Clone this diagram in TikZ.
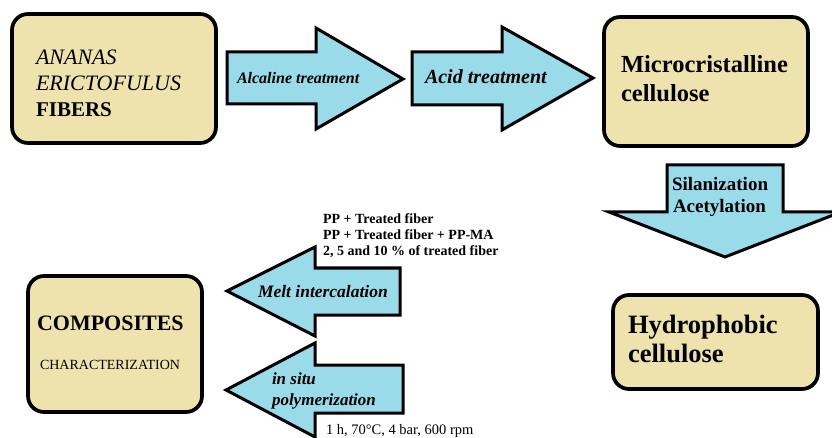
\documentclass[tikz,border=0pt]{standalone}
\usepackage{fontspec}
\setmainfont{Liberation Serif}
\definecolor{boxtan}{HTML}{EFE3AD}
\definecolor{arrowblue}{HTML}{9ADBEA}
\tikzset{
  box/.style={draw=black, line width=3.7pt, fill=boxtan, rounded corners=16pt},
  blockarrow/.style={draw=black, line width=3pt, fill=arrowblue, line join=miter},
  lbl/.style={anchor=base west, inner sep=0pt, outer sep=0pt},
}
\newcommand{\fs}[1]{\fontsize{#1}{#1}\selectfont}
\begin{document}
\begin{tikzpicture}[x=1pt, y=-1pt]
\useasboundingbox (0,0) rectangle (832,438);
\fill[white] (0,0) rectangle (832,438);
% boxes
\draw[box] (12,14) rectangle (216,143);
\draw[box] (604,17) rectangle (808,146);
\draw[box] (613,295) rectangle (818,389);
\draw[box] (28,276) rectangle (202,412);
% block arrows
\draw[blockarrow] (227,52) -- (316,52) -- (316,28) -- (403,79) -- (316,129) -- (316,104) -- (227,104) -- cycle;
\draw[blockarrow] (412,52) -- (502,52) -- (502,27) -- (593,78) -- (502,130) -- (502,105) -- (412,105) -- cycle;
\draw[blockarrow] (667,165) -- (783,165) -- (783,212) -- (841,212) -- (725,257) -- (609,212) -- (667,212) -- cycle;
\draw[blockarrow] (227,291) -- (315,247) -- (315,268) -- (400,268) -- (400,315) -- (315,315) -- (315,336) -- cycle;
\draw[blockarrow] (226,390) -- (315,343) -- (315,365) -- (403,365) -- (403,413) -- (315,413) -- (315,437) -- cycle;
% box texts
\node[lbl] (t1) at (36,65) {\fs{22}\itshape ANANAS};
\node[lbl] (t2) at (36,91) {\fs{22}\itshape ERICTOFULUS};
\node[lbl] (t3) at (36,117) {\fs{21}\bfseries FIBERS};
\node[lbl] (t4) at (621,73) {\fs{24.5}\bfseries Microcristalline};
\node[lbl] (t5) at (621,102) {\fs{24.5}\bfseries cellulose};
\node[lbl] (t6) at (628,333) {\fs{26.5}\bfseries Hydrophobic};
\node[lbl] (t7) at (628,362) {\fs{26.5}\bfseries cellulose};
\node[lbl] (t8) at (37,330) {\fs{22}\bfseries COMPOSITES};
\node[lbl] (t9) at (40,369) {\fs{14}CHARACTERIZATION};
% arrow labels
\node[lbl] (a1) at (237,84) {\fs{16}\bfseries\itshape Alcaline treatment};
\node[lbl] (a2) at (425,84) {\fs{20}\bfseries\itshape Acid treatment};
\node[lbl] (a3) at (672,191) {\fs{19}\bfseries Silanization};
\node[lbl] (a4) at (673,213) {\fs{19}\bfseries Acetylation};
\node[lbl] (a5) at (258,297) {\fs{17.5}\bfseries\itshape Melt intercalation};
\node[lbl] (a6) at (272,384) {\fs{17}\bfseries\itshape in situ};
\node[lbl] (a7) at (272,405) {\fs{17}\bfseries\itshape polymerization};
% annotations
\node[lbl] (n1) at (323,224) {\fs{14}\bfseries PP + Treated fiber};
\node[lbl] (n2) at (323,240) {\fs{14}\bfseries PP + Treated fiber + PP-MA};
\node[lbl] (n3) at (323,256) {\fs{14}\bfseries 2, 5 and 10 \% of treated fiber};
\node[lbl] (n4) at (326,434) {\fs{14.5}1 h, 70°C, 4 bar, 600 rpm};
\end{tikzpicture}
\end{document}
